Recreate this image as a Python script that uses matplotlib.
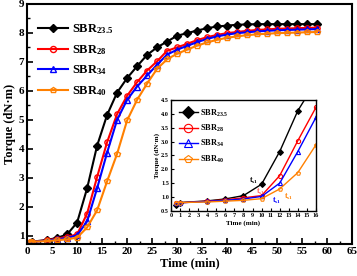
import matplotlib
matplotlib.use("Agg")
import matplotlib.pyplot as plt
import numpy as np

plt.rcParams['font.family'] = ['Liberation Serif', 'DejaVu Serif']
plt.rcParams['font.weight'] = 'bold'
plt.rcParams['mathtext.fontset'] = 'custom'
plt.rcParams['mathtext.rm'] = 'Liberation Serif:bold'
plt.rcParams['mathtext.it'] = 'Liberation Serif:bold'
plt.rcParams['mathtext.bf'] = 'Liberation Serif:bold'

# 硫化时间 (min)
time = [0.5, 1, 4, 6, 8, 10, 12, 14, 16, 18, 20, 22, 24, 26, 28, 30, 32, 34, 36, 38,
        40, 42, 44, 46, 48, 50, 52, 54, 56, 58]

torque_235 = [0.72, 0.80, 0.86, 0.93, 1.05, 1.46, 2.64, 4.11, 5.17, 5.94, 6.44, 6.85, 7.24, 7.50,
              7.70, 7.90, 7.99, 8.08, 8.16, 8.22, 8.25, 8.28, 8.29, 8.30, 8.30, 8.30, 8.30, 8.30,
              8.30, 8.30]
torque_28 = [0.80, 0.79, 0.85, 0.90, 0.97, 1.05, 1.77, 3.03, 4.23, 5.20, 5.83, 6.30, 6.70, 7.02,
             7.38, 7.50, 7.62, 7.75, 7.85, 7.93, 7.99, 8.03, 8.07, 8.10, 8.12, 8.14, 8.15, 8.16,
             8.17, 8.18]
torque_34 = [0.78, 0.79, 0.84, 0.88, 0.93, 1.02, 1.50, 2.64, 3.87, 5.00, 5.69, 6.15, 6.53, 6.90,
             7.25, 7.42, 7.55, 7.68, 7.79, 7.88, 7.94, 7.99, 8.02, 8.05, 8.07, 8.09, 8.10, 8.11,
             8.12, 8.13]
torque_40 = [0.80, 0.80, 0.82, 0.85, 0.88, 0.94, 1.29, 1.88, 2.88, 3.83, 4.98, 5.69, 6.25, 6.76,
             7.09, 7.28, 7.42, 7.56, 7.67, 7.76, 7.83, 7.88, 7.92, 7.95, 7.97, 7.99, 8.00, 8.01,
             8.02, 8.03]

labels = ['SBR$_{23.5}$', 'SBR$_{28}$', 'SBR$_{34}$', 'SBR$_{40}$']
series = [torque_235, torque_28, torque_34, torque_40]
colors = ['black', '#FF0000', '#0000FF', '#FF8000']
markers = ['D', 'o', '^', 'p']

fig = plt.figure(figsize=(3.57, 2.76), dpi=100)
ax = fig.add_axes([0.076, 0.116, 0.91, 0.87])

for y, lab, c, m in zip(series, labels, colors, markers):
    face = c if m == 'D' else 'none'
    ax.plot(time, y, '-', color=c, marker=m, markersize=3.8, markerfacecolor=face,
            markeredgecolor=c, markeredgewidth=1.0, linewidth=1.5, label=lab)

ax.set_xlim(0, 65)
ax.set_ylim(0.72, 9)
ax.set_xticks(np.arange(0, 66, 5))
ax.set_yticks(np.arange(1, 10, 1))
ax.set_xticks(np.arange(2.5, 65, 5), minor=True)
ax.set_yticks(np.arange(1.5, 9, 1), minor=True)
ax.tick_params(direction='in', which='major', length=4, width=1.2, labelsize=8, pad=2)
ax.tick_params(direction='in', which='minor', length=2, width=1)
for s in ax.spines.values():
    s.set_linewidth(1.5)
ax.set_xlabel('Time (min)', fontsize=9, fontweight='bold', labelpad=1)
ax.set_ylabel('Torque (dN·m)', fontsize=9, fontweight='bold', labelpad=2)
ax.legend(loc='upper left', bbox_to_anchor=(0.0, 0.97), frameon=False, fontsize=9,
          handlelength=2.4, handletextpad=0.3, labelspacing=0.55, markerscale=1.15)

# 局部放大图
axin = fig.add_axes([0.479, 0.236, 0.406, 0.402])
for y, lab, c, m in zip(series, labels, colors, markers):
    face = c if m == 'D' else 'none'
    axin.plot(time, y, '-', color=c, marker=m, markersize=3, markerfacecolor=face,
              markeredgecolor=c, markeredgewidth=0.8, linewidth=1.0, label=lab)
axin.set_xlim(0, 16)
axin.set_ylim(0.5, 4.5)
axin.set_xticks(np.arange(0, 17, 1))
axin.set_yticks(np.arange(0.5, 4.6, 0.5))
axin.tick_params(direction='in', length=2, width=0.8, labelsize=4.5, pad=1.5)
for s in axin.spines.values():
    s.set_linewidth(1.0)
axin.set_xlabel('Time (min)', fontsize=5, fontweight='bold', labelpad=1.5)
axin.set_ylabel('Torque (dN·m)', fontsize=5, fontweight='bold', labelpad=1)
axin.legend(loc='upper left', frameon=False, fontsize=6, handlelength=2.3,
            handletextpad=0.3, labelspacing=0.5, markerscale=2.0)

axin.text(8.6, 1.5, '$t_{s1}$', color='black', fontsize=5.5)
axin.text(9.4, 1.12, '$t_{s1}$', color='#FF6060', fontsize=5.5)
axin.text(11.2, 0.78, '$t_{s1}$', color='#0000FF', fontsize=5.5)
axin.text(12.5, 0.92, '$t_{s1}$', color='#FF8000', fontsize=5.5)

fig.savefig('out.png', dpi=100)
